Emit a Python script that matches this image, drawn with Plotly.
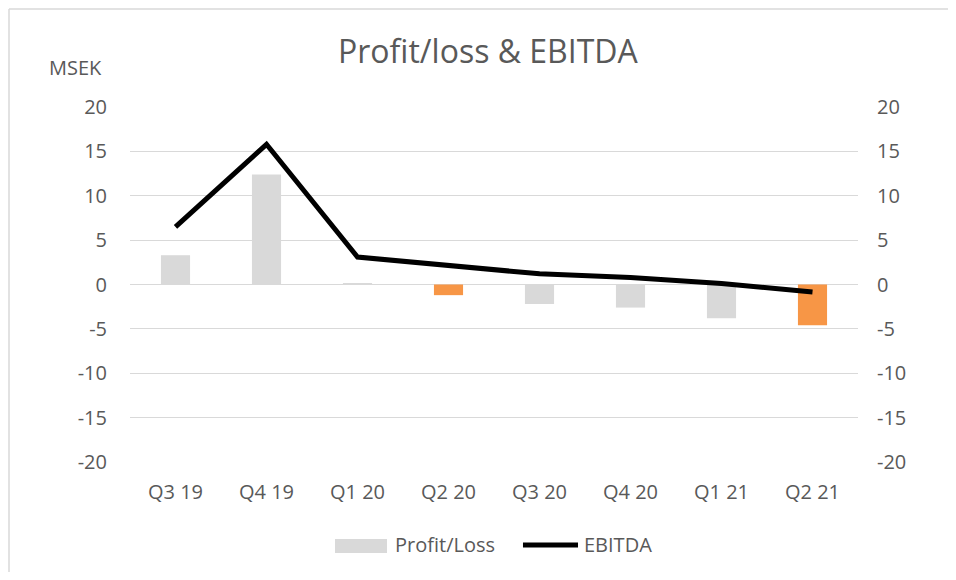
import plotly.graph_objects as go

categories = ["Q3 19", "Q4 19", "Q1 20", "Q2 20", "Q3 20", "Q4 20", "Q1 21", "Q2 21"]
profit_loss = [3.3, 12.4, 0.1, -1.2, -2.2, -2.6, -3.8, -4.6]
ebitda = [6.5, 15.8, 3.1, 2.1, 1.2, 0.8, 0.1, -0.85]
bar_colors = ["#d9d9d9", "#d9d9d9", "#d9d9d9", "#f79646", "#d9d9d9", "#d9d9d9", "#d9d9d9", "#f79646"]
tick_vals = [-20, -15, -10, -5, 0, 5, 10, 15, 20]
tick_text = ["-20", "-15", "-10", "-5", "0", "5", "10", "15", "20"]

font_family = "'Open Sans', sans-serif"
txt = "#595959"
fs = 20

fig = go.Figure()
fig.add_trace(go.Bar(x=categories, y=profit_loss, name="Profit/Loss",
                     marker=dict(color=bar_colors, line=dict(width=0)), width=0.32,
                     showlegend=False))
fig.add_trace(go.Scatter(x=categories, y=ebitda, name="EBITDA", mode="lines",
                         line=dict(color="black", width=5), yaxis="y2", showlegend=False))

axis_common = dict(range=[-20, 20], tickvals=tick_vals, ticktext=tick_text, showgrid=True,
                   gridcolor="#d9d9d9", gridwidth=1.3, zeroline=True, zerolinecolor="#d9d9d9",
                   zerolinewidth=1.3, tickfont=dict(size=fs, color=txt, family=font_family),
                   ticks="", showline=False, fixedrange=True)

fig.update_layout(
    width=940, height=564,
    margin=dict(l=122, r=90, t=99, b=110),
    paper_bgcolor="white", plot_bgcolor="white",
    xaxis=dict(tickfont=dict(size=fs, color=txt, family=font_family), showgrid=False,
               ticks="", showline=False, ticklabelstandoff=16),
    yaxis=dict(**axis_common, ticklabelstandoff=22),
    yaxis2=dict(**axis_common, overlaying="y", side="right", ticklabelstandoff=18),
    showlegend=False,
)

# Title
fig.add_annotation(text="Profit/loss & EBITDA", xref="paper", yref="paper", x=0.493, y=1.158,
                   xanchor="center", yanchor="middle", showarrow=False,
                   font=dict(size=32, color=txt, family=font_family))
# Axis unit label
fig.add_annotation(text="MSEK", xref="paper", yref="paper", x=-0.0755, y=1.11,
                   xanchor="center", yanchor="middle", showarrow=False,
                   font=dict(size=fs, color=txt, family=font_family))

# Legend (drawn manually to match swatch sizes)
fig.add_shape(type="rect", xref="paper", yref="paper", x0=0.2816, x1=0.353, y0=-0.2563, y1=-0.2169,
              line=dict(width=0), fillcolor="#d9d9d9")
fig.add_annotation(text="Profit/Loss", xref="paper", yref="paper", x=0.3613, y=-0.2338,
                   xanchor="left", yanchor="middle", showarrow=False,
                   font=dict(size=fs, color=txt, family=font_family))
fig.add_shape(type="line", xref="paper", yref="paper", x0=0.5398, x1=0.6154, y0=-0.2338, y1=-0.2338,
              line=dict(color="black", width=5))
fig.add_annotation(text="EBITDA", xref="paper", yref="paper", x=0.6209, y=-0.2338,
                   xanchor="left", yanchor="middle", showarrow=False,
                   font=dict(size=fs, color=txt, family=font_family))

# Chart frame (only left and top edges are visible in the original)
fig.add_shape(type="line", xref="paper", yref="paper", x0=-0.1662, x1=1.3, y0=1.276, y1=1.276,
              line=dict(color="#d9d9d9", width=1.5), layer="below")
fig.add_shape(type="line", xref="paper", yref="paper", x0=-0.1662, x1=-0.1662, y0=-0.5, y1=1.276,
              line=dict(color="#d9d9d9", width=1.5), layer="below")

fig.write_html("out.html")
